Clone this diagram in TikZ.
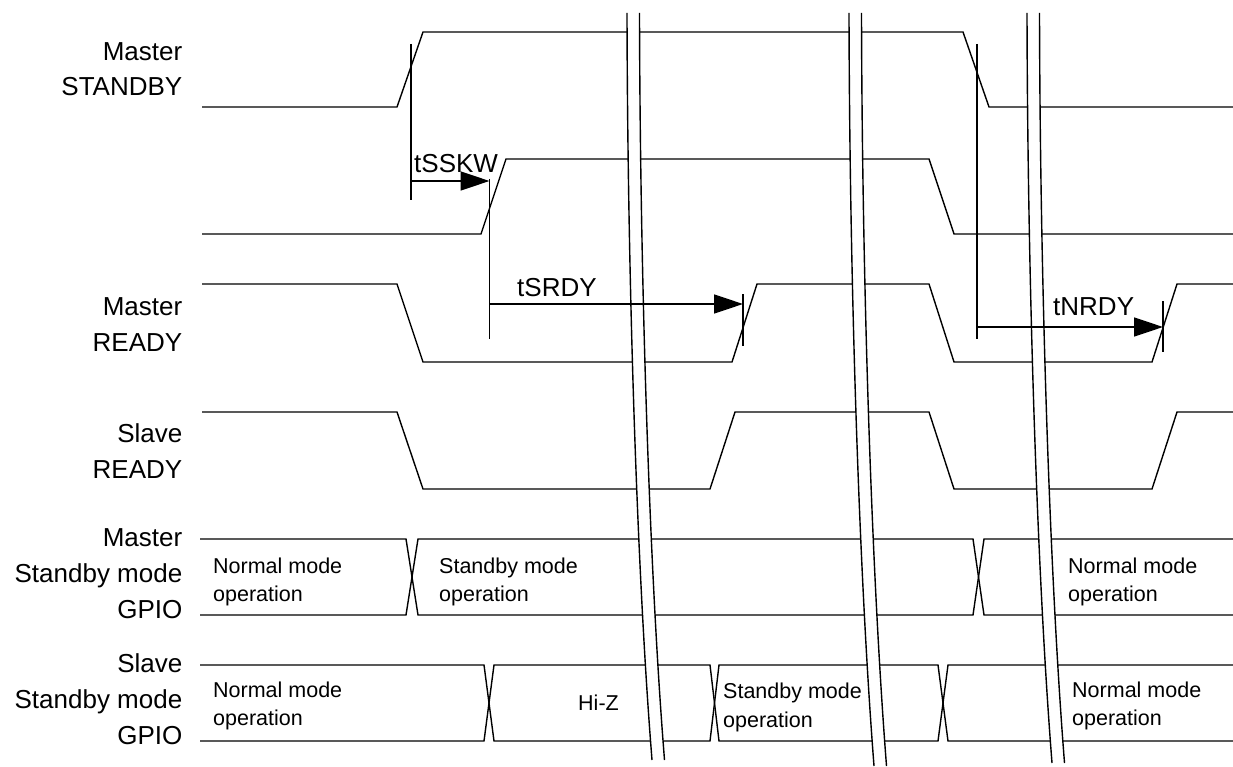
\documentclass[tikz,border=0pt]{standalone}
\usepackage{fontspec}
\setmainfont{Liberation Sans}
\usetikzlibrary{arrows.meta}
% break mark: #1 = x of left line at top, #2 = bottom y
\newcommand\mybreakmark[2]{%
  \fill[white] ({#1},13) .. controls ({#1+0.5},260) and ({#1+9},560) .. ({#1+25},#2)
     -- ({#1+37.5},#2) .. controls ({#1+21.5},560) and ({#1+13},260) .. ({#1+12.5},13) -- cycle;
  \draw[brkline] ({#1},13) .. controls ({#1+0.5},260) and ({#1+9},560) .. ({#1+25},#2);
  \draw[brkline] ({#1+12.5},13) .. controls ({#1+13},260) and ({#1+21.5},560) .. ({#1+37.5},#2);
}
\begin{document}
\begin{tikzpicture}[x=1pt,y=-1pt,
  sig/.style={line width=1.4pt, line join=miter},
  brkline/.style={line width=1.4pt},
  tim/.style={line width=1.4pt},
  arr/.style={tim,-{Triangle[length=29pt,width=19pt]}},
  big/.style={inner sep=0pt, font=\fontsize{26}{31}\selectfont},
  small/.style={inner sep=0pt, font=\fontsize{21.5}{26}\selectfont},
]
\useasboundingbox (0,0) rectangle (1233,767);

% ---------- signals ----------
\draw[sig] (202,107) -- (397,107) -- (423,32) -- (963,32) -- (989,107) -- (1233,107);
\draw[sig] (202,234) -- (481,234) -- (506,159) -- (929,159) -- (954,234) -- (1233,234);
\draw[sig] (202,284) -- (397,284) -- (423,362) -- (732,362) -- (757,284) -- (929,284) -- (954,362) -- (1152,362) -- (1177,284) -- (1233,284);
\draw[sig] (202,412) -- (397,412) -- (423,489) -- (710,489) -- (735,412) -- (929,412) -- (954,489) -- (1152,489) -- (1177,412) -- (1233,412);

% GPIO buses
\draw[sig] (200,539) -- (406,539) -- (418,615) -- (973,615) -- (984,539) -- (1233,539);
\draw[sig] (200,615) -- (406,615) -- (418,539) -- (973,539) -- (984,615) -- (1233,615);
\draw[sig] (200,665) -- (484,665) -- (494,741) -- (710,741) -- (719,665) -- (938,665) -- (948,741) -- (1233,741);
\draw[sig] (200,741) -- (484,741) -- (494,665) -- (710,665) -- (719,741) -- (938,741) -- (948,665) -- (1233,665);

% ---------- breaks ----------
\mybreakmark{627}{760}
\mybreakmark{849}{766}
\mybreakmark{1027}{763}

% ---------- timing marks ----------
\coordinate (sa) at (411,44);   \coordinate (sb) at (411,200);
\coordinate (ka) at (411,181);  \coordinate (kb) at (489.5,181);
\coordinate (va) at (489.5,179); \coordinate (vb) at (489.5,339);
\coordinate (ra) at (489.5,304); \coordinate (rb) at (743,304);
\coordinate (wa) at (743,294);  \coordinate (wb) at (743,346);
\coordinate (na) at (977,44);   \coordinate (nb) at (977,339);
\coordinate (ma) at (977,327);  \coordinate (mb) at (1163,327);
\coordinate (ua) at (1163,301); \coordinate (ub) at (1163,352);
\draw[tim] (sa) -- (sb);
\draw[arr] (ka) -- (kb);
\draw[tim] (va) -- (vb);
\draw[arr] (ra) -- (rb);
\draw[tim] (wa) -- (wb);
\draw[tim] (na) -- (nb);
\draw[arr] (ma) -- (mb);
\draw[tim] (ua) -- (ub);

\node[big, anchor=base west] (tsskw) at (414,173) {tSSKW};
\node[big, anchor=base west] (tsrdy) at (517,296.7) {tSRDY};
\node[big, anchor=base west] (tnrdy) at (1053,315) {tNRDY};

% ---------- row labels ----------
\node[big, anchor=base east] (l1a) at (182.5,60.7) {Master};
\node[big, anchor=base east] (l1b) at (182.5,96) {STANDBY};
\node[big, anchor=base east] (l3a) at (182.5,315) {Master};
\node[big, anchor=base east] (l3b) at (182.5,351) {READY};
\node[big, anchor=base east] (l4a) at (182.5,442.5) {Slave};
\node[big, anchor=base east] (l4b) at (182.5,478.5) {READY};
\node[big, anchor=base east] (l5a) at (182.5,546.7) {Master};
\node[big, anchor=base east] (l5b) at (182.5,582.7) {Standby mode};
\node[big, anchor=base east] (l5c) at (182.5,618.3) {GPIO};
\node[big, anchor=base east] (l6a) at (182.5,672.7) {Slave};
\node[big, anchor=base east] (l6b) at (182.5,708.7) {Standby mode};
\node[big, anchor=base east] (l6c) at (182.5,744.3) {GPIO};

% ---------- bus contents ----------
\node[small, anchor=base west] (m1a) at (213,573) {Normal mode};
\node[small, anchor=base west] (m1b) at (213,601) {operation};
\node[small, anchor=base west] (m2a) at (439,573) {Standby mode};
\node[small, anchor=base west] (m2b) at (439,601) {operation};
\node[small, anchor=base west] (m3a) at (1068,573) {Normal mode};
\node[small, anchor=base west] (m3b) at (1068,601) {operation};
\node[small, anchor=base west] (s1a) at (213,697) {Normal mode};
\node[small, anchor=base west] (s1b) at (213,725) {operation};
\node[small, anchor=base west] (s2) at (578,710.7) {Hi-Z};
\node[small, anchor=base west] (s3a) at (723,698) {Standby mode};
\node[small, anchor=base west] (s3b) at (723,727) {operation};
\node[small, anchor=base west] (s4a) at (1072,697) {Normal mode};
\node[small, anchor=base west] (s4b) at (1072,725) {operation};
\end{tikzpicture}
\end{document}
